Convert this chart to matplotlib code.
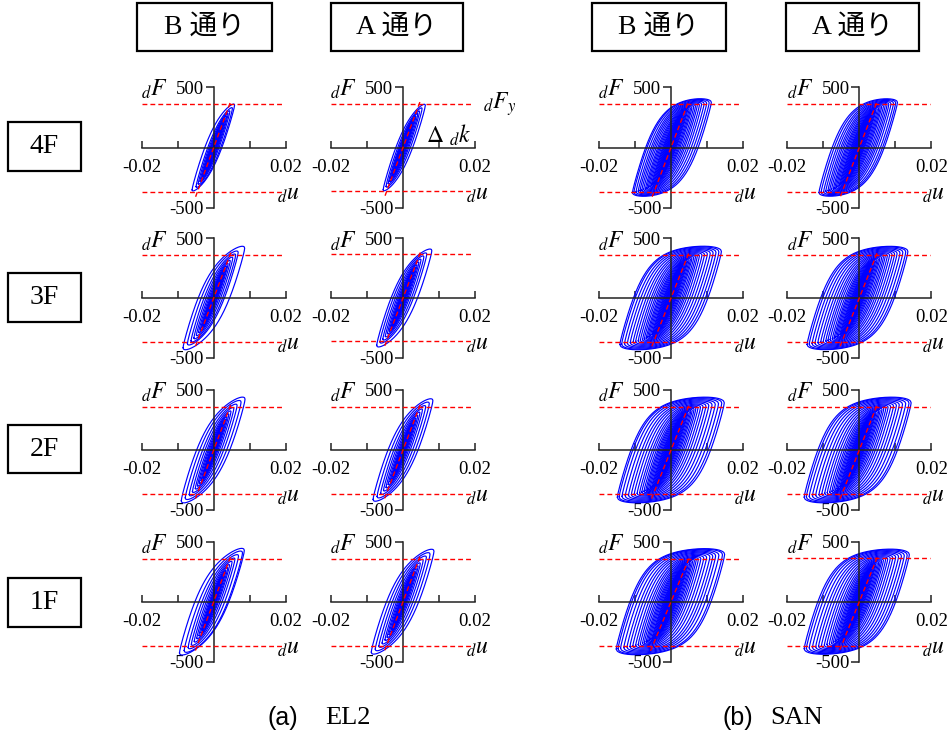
import numpy as np
import matplotlib
matplotlib.use("Agg")
import matplotlib.pyplot as plt
from matplotlib.patches import Rectangle

plt.rcParams['mathtext.fontset'] = 'stix'
plt.rcParams['font.family'] = ['Liberation Serif', 'Noto Sans CJK JP']

# labels
wave_labels = ['EL2', 'SAN']
wave_tags = ['(a)', '(b)']
frame_labels = ['B 通り', 'A 通り']
floor_labels = ['4F', '3F', '2F', '1F']

# cycle peaks (u_neg, u_pos), EL2 wave
el2_b_4f = [(-0.0060, 0.0058), (-0.0049, 0.0052), (-0.0043, 0.0045), (-0.0038, 0.0040),
            (-0.0034, 0.0036), (-0.0031, 0.0032), (-0.0028, 0.0029), (-0.0025, 0.0026),
            (-0.0023, 0.0024), (-0.0021, 0.0022), (-0.0019, 0.0020), (-0.0017, 0.0018),
            (-0.0015, 0.0016), (-0.0013, 0.0014), (-0.0011, 0.0012), (-0.0009, 0.0010),
            (-0.0007, 0.0008)]
el2_a_4f = [(-0.0055, 0.0062), (-0.0047, 0.0053), (-0.0041, 0.0046), (-0.0037, 0.0041),
            (-0.0033, 0.0036), (-0.0030, 0.0032), (-0.0027, 0.0029), (-0.0025, 0.0026),
            (-0.0023, 0.0024), (-0.0021, 0.0022), (-0.0019, 0.0020), (-0.0017, 0.0018),
            (-0.0015, 0.0016), (-0.0013, 0.0014), (-0.0011, 0.0012), (-0.0009, 0.0010),
            (-0.0007, 0.0008)]
el2_b_3f = [(-0.0085, 0.0086), (-0.0073, 0.0068), (-0.0063, 0.0061), (-0.0055, 0.0053),
            (-0.0048, 0.0046), (-0.0042, 0.0040), (-0.0037, 0.0036), (-0.0033, 0.0032),
            (-0.0030, 0.0029), (-0.0027, 0.0026), (-0.0024, 0.0023), (-0.0021, 0.0021),
            (-0.0019, 0.0018), (-0.0016, 0.0016), (-0.0014, 0.0014), (-0.0012, 0.0012),
            (-0.0010, 0.0010), (-0.0008, 0.0008)]
el2_a_3f = [(-0.0073, 0.0080), (-0.0064, 0.0066), (-0.0056, 0.0058), (-0.0049, 0.0050),
            (-0.0043, 0.0044), (-0.0038, 0.0039), (-0.0034, 0.0035), (-0.0031, 0.0031),
            (-0.0028, 0.0028), (-0.0025, 0.0025), (-0.0022, 0.0023), (-0.0020, 0.0020),
            (-0.0018, 0.0018), (-0.0016, 0.0016), (-0.0014, 0.0014), (-0.0012, 0.0012),
            (-0.0010, 0.0010), (-0.0008, 0.0008)]
el2_b_2f = [(-0.0090, 0.0087), (-0.0079, 0.0076), (-0.0068, 0.0065), (-0.0059, 0.0056),
            (-0.0051, 0.0048), (-0.0045, 0.0042), (-0.0040, 0.0037), (-0.0035, 0.0033),
            (-0.0031, 0.0029), (-0.0028, 0.0026), (-0.0025, 0.0023), (-0.0022, 0.0021),
            (-0.0019, 0.0018), (-0.0017, 0.0016), (-0.0014, 0.0014), (-0.0012, 0.0012),
            (-0.0010, 0.0010), (-0.0008, 0.0008)]
el2_a_2f = [(-0.0083, 0.0083), (-0.0072, 0.0073), (-0.0062, 0.0063), (-0.0054, 0.0054),
            (-0.0047, 0.0047), (-0.0041, 0.0041), (-0.0036, 0.0036), (-0.0032, 0.0032),
            (-0.0029, 0.0028), (-0.0026, 0.0025), (-0.0023, 0.0022), (-0.0021, 0.0020),
            (-0.0018, 0.0018), (-0.0016, 0.0016), (-0.0014, 0.0014), (-0.0012, 0.0012),
            (-0.0010, 0.0010), (-0.0008, 0.0008)]
el2_b_1f = [(-0.0095, 0.0085), (-0.0082, 0.0080), (-0.0071, 0.0069), (-0.0062, 0.0059),
            (-0.0054, 0.0051), (-0.0047, 0.0044), (-0.0041, 0.0039), (-0.0036, 0.0034),
            (-0.0032, 0.0030), (-0.0029, 0.0027), (-0.0026, 0.0024), (-0.0023, 0.0021),
            (-0.0020, 0.0019), (-0.0017, 0.0016), (-0.0015, 0.0014), (-0.0012, 0.0012),
            (-0.0010, 0.0010), (-0.0008, 0.0008)]
el2_a_1f = [(-0.0088, 0.0086), (-0.0077, 0.0075), (-0.0067, 0.0065), (-0.0058, 0.0056),
            (-0.0050, 0.0048), (-0.0044, 0.0042), (-0.0039, 0.0037), (-0.0034, 0.0033),
            (-0.0031, 0.0029), (-0.0028, 0.0026), (-0.0025, 0.0023), (-0.0022, 0.0021),
            (-0.0019, 0.0018), (-0.0017, 0.0016), (-0.0014, 0.0014), (-0.0012, 0.0012),
            (-0.0010, 0.0010), (-0.0008, 0.0008)]

# cycle peaks (u_neg, u_pos), SAN wave
san_b_4f = [(-0.0107, 0.0112), (-0.0103, 0.0106), (-0.0097, 0.0099), (-0.0091, 0.0092),
            (-0.0086, 0.0085), (-0.0081, 0.0079), (-0.0076, 0.0073), (-0.0071, 0.0068),
            (-0.0067, 0.0063), (-0.0063, 0.0058), (-0.0059, 0.0054), (-0.0055, 0.0050),
            (-0.0052, 0.0046), (-0.0049, 0.0043), (-0.0046, 0.0040), (-0.0043, 0.0037),
            (-0.0040, 0.0034), (-0.0037, 0.0031), (-0.0034, 0.0028), (-0.0031, 0.0025),
            (-0.0028, 0.0022), (-0.0025, 0.0019), (-0.0021, 0.0016), (-0.0017, 0.0013),
            (-0.0013, 0.0010)]
san_a_4f = [(-0.0112, 0.0106), (-0.0106, 0.0101), (-0.0099, 0.0095), (-0.0093, 0.0088),
            (-0.0087, 0.0082), (-0.0082, 0.0077), (-0.0077, 0.0072), (-0.0072, 0.0067),
            (-0.0068, 0.0062), (-0.0064, 0.0058), (-0.0060, 0.0054), (-0.0056, 0.0050),
            (-0.0053, 0.0046), (-0.0050, 0.0043), (-0.0047, 0.0040), (-0.0044, 0.0037),
            (-0.0041, 0.0034), (-0.0038, 0.0031), (-0.0035, 0.0028), (-0.0032, 0.0025),
            (-0.0029, 0.0022), (-0.0025, 0.0019), (-0.0021, 0.0016), (-0.0017, 0.0013),
            (-0.0013, 0.0010)]
san_b_3f = [(-0.0142, 0.0140), (-0.0137, 0.0133), (-0.0129, 0.0125), (-0.0121, 0.0117),
            (-0.0113, 0.0109), (-0.0105, 0.0101), (-0.0098, 0.0093), (-0.0091, 0.0086),
            (-0.0085, 0.0079), (-0.0079, 0.0073), (-0.0074, 0.0068), (-0.0069, 0.0063),
            (-0.0065, 0.0058), (-0.0061, 0.0054), (-0.0057, 0.0050), (-0.0053, 0.0046),
            (-0.0050, 0.0043), (-0.0047, 0.0040), (-0.0044, 0.0037), (-0.0041, 0.0034),
            (-0.0038, 0.0031), (-0.0035, 0.0028), (-0.0032, 0.0025), (-0.0029, 0.0022),
            (-0.0025, 0.0019), (-0.0021, 0.0016), (-0.0017, 0.0013), (-0.0013, 0.0010)]
san_a_3f = [(-0.0145, 0.0135), (-0.0139, 0.0129), (-0.0131, 0.0121), (-0.0123, 0.0113),
            (-0.0115, 0.0105), (-0.0107, 0.0098), (-0.0100, 0.0091), (-0.0093, 0.0084),
            (-0.0087, 0.0078), (-0.0081, 0.0072), (-0.0075, 0.0067), (-0.0070, 0.0062),
            (-0.0066, 0.0057), (-0.0062, 0.0053), (-0.0058, 0.0049), (-0.0054, 0.0045),
            (-0.0051, 0.0042), (-0.0048, 0.0039), (-0.0045, 0.0036), (-0.0042, 0.0033),
            (-0.0039, 0.0030), (-0.0036, 0.0027), (-0.0033, 0.0024), (-0.0030, 0.0021),
            (-0.0026, 0.0018), (-0.0022, 0.0015), (-0.0018, 0.0012), (-0.0014, 0.0009)]
san_b_2f = [(-0.0149, 0.0148), (-0.0144, 0.0141), (-0.0136, 0.0132), (-0.0127, 0.0123),
            (-0.0118, 0.0114), (-0.0110, 0.0105), (-0.0102, 0.0097), (-0.0094, 0.0089),
            (-0.0087, 0.0082), (-0.0081, 0.0075), (-0.0075, 0.0069), (-0.0070, 0.0064),
            (-0.0066, 0.0059), (-0.0062, 0.0055), (-0.0058, 0.0051), (-0.0054, 0.0047),
            (-0.0051, 0.0044), (-0.0048, 0.0041), (-0.0045, 0.0038), (-0.0042, 0.0035),
            (-0.0039, 0.0032), (-0.0036, 0.0029), (-0.0033, 0.0026), (-0.0030, 0.0023),
            (-0.0026, 0.0020), (-0.0022, 0.0017), (-0.0018, 0.0014), (-0.0014, 0.0010)]
san_a_2f = [(-0.0153, 0.0144), (-0.0147, 0.0138), (-0.0139, 0.0129), (-0.0130, 0.0120),
            (-0.0121, 0.0111), (-0.0112, 0.0103), (-0.0104, 0.0095), (-0.0096, 0.0087),
            (-0.0089, 0.0080), (-0.0082, 0.0074), (-0.0076, 0.0068), (-0.0071, 0.0063),
            (-0.0066, 0.0058), (-0.0062, 0.0054), (-0.0058, 0.0050), (-0.0054, 0.0046),
            (-0.0051, 0.0043), (-0.0048, 0.0040), (-0.0045, 0.0037), (-0.0042, 0.0034),
            (-0.0039, 0.0031), (-0.0036, 0.0028), (-0.0033, 0.0025), (-0.0030, 0.0022),
            (-0.0026, 0.0019), (-0.0022, 0.0016), (-0.0018, 0.0013), (-0.0014, 0.0010)]
san_b_1f = [(-0.0152, 0.0149), (-0.0147, 0.0143), (-0.0140, 0.0133), (-0.0131, 0.0124),
            (-0.0122, 0.0116), (-0.0114, 0.0108), (-0.0106, 0.0099), (-0.0098, 0.0091),
            (-0.0091, 0.0083), (-0.0085, 0.0076), (-0.0079, 0.0070), (-0.0074, 0.0065),
            (-0.0069, 0.0060), (-0.0065, 0.0056), (-0.0061, 0.0052), (-0.0057, 0.0048),
            (-0.0053, 0.0045), (-0.0050, 0.0042), (-0.0047, 0.0039), (-0.0044, 0.0036),
            (-0.0041, 0.0033), (-0.0038, 0.0030), (-0.0035, 0.0027), (-0.0032, 0.0024),
            (-0.0029, 0.0021), (-0.0026, 0.0018), (-0.0022, 0.0015), (-0.0018, 0.0012),
            (-0.0014, 0.0009)]
san_a_1f = [(-0.0153, 0.0139), (-0.0147, 0.0133), (-0.0139, 0.0125), (-0.0130, 0.0117),
            (-0.0121, 0.0109), (-0.0113, 0.0101), (-0.0105, 0.0093), (-0.0097, 0.0086),
            (-0.0090, 0.0079), (-0.0083, 0.0073), (-0.0077, 0.0067), (-0.0072, 0.0062),
            (-0.0067, 0.0058), (-0.0063, 0.0054), (-0.0059, 0.0050), (-0.0055, 0.0046),
            (-0.0052, 0.0043), (-0.0049, 0.0040), (-0.0046, 0.0037), (-0.0043, 0.0034),
            (-0.0040, 0.0031), (-0.0037, 0.0028), (-0.0034, 0.0025), (-0.0031, 0.0022),
            (-0.0027, 0.0019), (-0.0023, 0.0016), (-0.0019, 0.0013), (-0.0015, 0.0010)]

cycles = [[el2_b_4f, el2_a_4f, san_b_4f, san_a_4f],
          [el2_b_3f, el2_a_3f, san_b_3f, san_a_3f],
          [el2_b_2f, el2_a_2f, san_b_2f, san_a_2f],
          [el2_b_1f, el2_a_1f, san_b_1f, san_a_1f]]

# damper yield force (+/-) and stiffness per panel
fy_pos = [[358, 362, 362, 360],
          [362, 372, 360, 362],
          [360, 362, 362, 360],
          [358, 360, 356, 362]]
fy_neg = [[-370, -362, -370, -366],
          [-366, -364, -368, -366],
          [-367, -366, -368, -370],
          [-370, -368, -372, -366]]
dk = [[81000, 80000, 78000, 77000],
      [80000, 79000, 76000, 76000],
      [80000, 79000, 75000, 76000],
      [80000, 80000, 72000, 74000]]

# hysteresis parameters (kh, Fq, k1, eta) for each wave
hyst = [(20000, 250, 70000, 9500), (5000, 319, 89000, 6580)]


def skel(x, p):
    kh, fq, k1, eta = p
    return kh * x + fq * np.tanh(k1 * x / fq)


def loop(un, up, p):
    eta = p[3]
    h = (up - un) / 2
    t = skel(h, p)
    u1 = np.linspace(un, up, 160)
    e1 = eta * np.sqrt(np.clip((u1 - un) * (up - u1), 0, None))
    f1 = -t + 2 * skel((u1 - un) / 2, p) + e1
    u2 = u1[::-1]
    e2 = e1[::-1]
    f2 = t - 2 * skel((up - u2) / 2, p) - e2
    return np.concatenate([u1, u2]), np.concatenate([f1, f2])


W, H = 947, 736
fig = plt.figure(figsize=(W / 100, H / 100), dpi=100)

col_x = [141.7, 331, 599, 787.3]
row_y = [(87, 208), (238.3, 357.7), (390, 510), (541.7, 661.7)]
ax_w = 144

for i in range(4):
    for j in range(4):
        top, bot = row_y[i]
        ax = fig.add_axes([col_x[j] / W, 1 - bot / H, ax_w / W, (bot - top) / H])
        ax.patch.set_visible(False)
        ax.set_xlim(-0.02, 0.02)
        ax.set_ylim(-500, 500)
        for s in ['top', 'right']:
            ax.spines[s].set_visible(False)
        ax.spines['left'].set_position(('data', 0))
        ax.spines['bottom'].set_position(('data', 0))
        for s in ['left', 'bottom']:
            ax.spines[s].set_linewidth(1.1)
            ax.spines[s].set_color('#222222')
        ax.set_xticks([-0.02, -0.01, 0.01, 0.02], ['-0.02', '', '', '0.02'])
        ax.set_yticks([-500, 500], ['-500', '500'])
        ax.tick_params(axis='x', direction='in', length=5, width=1.1, pad=8,
                       labelsize=13.5, color='#222222')
        ax.tick_params(axis='y', direction='out', length=6, width=1.1, pad=1,
                       labelsize=13.5, color='#222222')

        p = hyst[j // 2]
        for un, up in cycles[i][j]:
            u, f = loop(un, up, p)
            ax.plot(u, f, color='#0000ff', lw=0.85, zorder=2)

        ax.plot([-0.02, 0.0195], [fy_pos[i][j]] * 2, color='#ff0000', lw=1.0,
                dashes=(3.5, 2.2), zorder=3)
        ax.plot([-0.02, 0.0195], [fy_neg[i][j]] * 2, color='#ff0000', lw=1.0,
                dashes=(3.5, 2.2), zorder=3)
        f_lo, f_hi = fy_neg[i][j] * 1.1, fy_pos[i][j] * 1.08
        ax.plot([f_lo / dk[i][j], f_hi / dk[i][j]], [f_lo, f_hi], color='#ff0000',
                lw=1.0, dashes=(3.5, 2.2), zorder=3)

        ax.text(-0.0202, 425, r'${}_{d}F$', fontsize=17, ha='left', va='baseline')
        ax.text(0.0175, -430, r'${}_{d}u$', fontsize=17, ha='left', va='baseline',
                clip_on=False)
        if i == 0 and j == 1:
            ax.text(0.0222, 320, r'${}_{d}F_{y}$', fontsize=17, ha='left',
                    va='baseline', clip_on=False)
            ax.text(0.0064, 40, r'$\mathit{\Delta}\ {}_{d}k$', fontsize=17,
                    ha='left', va='baseline')

# header boxes
box_x = [(136.7, 271.7), (331, 463), (591.7, 726), (786, 919.3)]
for j, (x0, x1) in enumerate(box_x):
    fig.add_artist(Rectangle((x0 / W, 1 - 50.7 / H), (x1 - x0) / W, 48 / H,
                             transform=fig.transFigure, fill=False, lw=1.6,
                             edgecolor='black'))
    fig.text((x0 + x1) / 2 / W, 1 - 27 / H, frame_labels[j % 2], fontsize=20,
             ha='center', va='center')

# floor boxes
row_c = [146.7, 297.5, 449, 602.5]
for i, yc in enumerate(row_c):
    fig.add_artist(Rectangle((8.3 / W, 1 - (yc + 24.3) / H), 72.7 / W, 48.6 / H,
                             transform=fig.transFigure, fill=False, lw=1.6,
                             edgecolor='black'))
    fig.text(44.6 / W, 1 - yc / H, floor_labels[i], fontsize=20, ha='center',
             va='center')

# wave captions
cap_x = [(267, 325), (722, 770)]
for k in range(2):
    fig.text(cap_x[k][0] / W, 1 - 718 / H, wave_tags[k], fontsize=18,
             family='Liberation Sans', ha='left', va='center')
    fig.text(cap_x[k][1] / W, 1 - 718 / H, wave_labels[k], fontsize=19,
             ha='left', va='center')

fig.savefig('out.png', dpi=100)
